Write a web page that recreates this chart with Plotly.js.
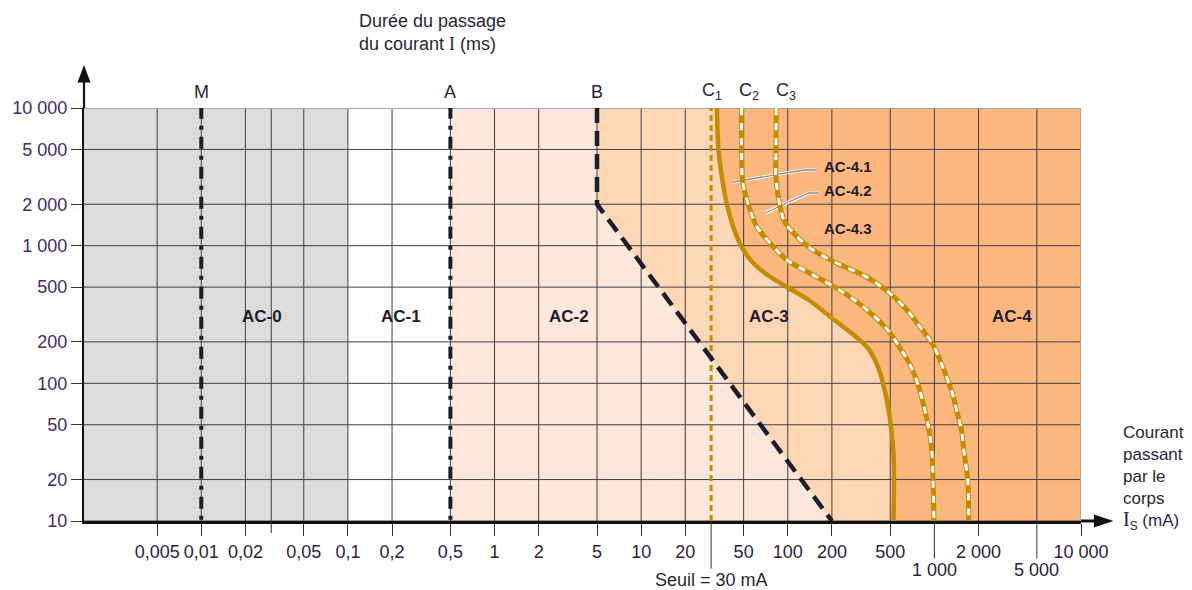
<!DOCTYPE html>
<html><head><meta charset="utf-8">
<script src="https://cdn.plot.ly/plotly-3.0.1.min.js"></script>
<style>html,body{margin:0;padding:0;background:#fff;}#chart{width:1192px;height:590px;}</style>
</head><body><div id="chart"></div>
<script>
// ---- ticks and grid ----
const xGridVals = [0.005,0.01,0.02,0.03,0.05,0.1,0.2,0.5,1,2,5,10,20,50,100,200,500,1000,2000,5000,10000];
const xTickVals = [0.005,0.01,0.02,0.05,0.1,0.2,0.5,1,2,5,10,20,50,100,200,500,2000,10000];
const xTickText = ['0,005','0,01','0,02','0,05','0,1','0,2','0,5','1','2','5','10','20','50','100','200','500','2 000','10 000'];
const xTickLowVals = [1000, 5000];
const xTickLowText = ['1 000', '5 000'];
const xTickBlank = [0.03];
const yTickVals = [10,20,50,100,200,500,1000,2000,5000,10000];
const yTickText = ['10','20','50','100','200','500','1 000','2 000','5 000','10 000'];

// ---- limits (mA) ----
const limitM = 0.01;
const limitAC0 = 0.1;
const limitA = 0.5;
const seuil = 30;
const gridMax = 10000;   // border of the chart (mA and ms)

// ---- curve B (mA, ms) ----
const curveB_I = [5, 5, 200];
const curveB_t = [10000, 2000, 10];

// ---- curve C1 ----
const curveC1_I = [32.9, 33.7, 35.8, 38.7, 43.2, 48.9, 59.0, 74.5, 98.6, 139, 208, 293, 359, 420, 469, 506, 526, 530, 526];
const curveC1_t = [10000, 4955, 3000, 1941, 1300, 962, 736, 602, 501, 403, 288, 217, 175, 125, 79.6, 48.2, 30.2, 19.9, 10];
// ---- curve C2 ----
const curveC2_I = [48.4, 48.4, 49.4, 54.3, 61.8, 80.2, 98.6, 141, 243, 354, 481, 576, 673, 767, 851, 919, 959, 979, 994];
const curveC2_t = [10000, 4955, 2851, 1941, 1366, 978, 787, 633, 453, 335, 244, 184, 140, 100.6, 67.3, 45.8, 32.8, 19.9, 10];
// ---- curve C3 ----
const curveC3_I = [83.5, 83.1, 83.1, 88.4, 95.5, 109.4, 142, 215, 326, 468, 649, 829, 981, 1161, 1324, 1432, 1531, 1586, 1688, 1715];
const curveC3_t = [10000, 4955, 3152, 1941, 1485, 1236, 962, 748, 612, 476, 341, 244, 190, 125, 85.1, 60.9, 45.8, 32.8, 19.9, 10];

// ---- zone labels ----
const zoneNames = ['AC-0', 'AC-1', 'AC-2', 'AC-3', 'AC-4'];
const zoneLabelI = [0.026, 0.23, 3.2, 75, 3380];
const zoneLabelT = [308, 308, 308, 308, 308];
const subZoneNames = ['AC-4.1', 'AC-4.2', 'AC-4.3'];
const subZoneLabelI = [172, 172, 172];
const subZoneLabelT = [3785, 2535, 1343];
const leader41_I = [42.5, 128.5, 157];
const leader41_t = [2900, 3545, 3545];
const leader42_I = [70, 139, 162];
const leader42_t = [1727, 2413, 2413];

const curveNames = ['M', 'A', 'B', 'C<sub>1</sub>', 'C<sub>2</sub>', 'C<sub>3</sub>'];
const curveNameI = [0.01, 0.5, 5, 30.4, 54.3, 97];

// ---- styling ----
const FONT = 'Liberation Sans, Arial, sans-serif';
const TXT = '#2b1f38';
const GOLD = '#c48c02';
const DARK = '#1d1d29';
const col = {ac0: '#dcdcdc', ac2: '#fde6da', ac3: '#fdd6b6', ac4: '#fcb77e', grid: '#3f3f44', border: '#a8a8a8'};
const XLO = 1e-4, XHI = 1e6, YLO = 1, YHI = 1e5;
const SM = 1;

const traces = [];
const base = {mode: 'lines', hoverinfo: 'skip', showlegend: false};

// zone fills
traces.push(Object.assign({}, base, {x: [XLO, limitAC0, limitAC0, XLO], y: [10, 10, 10000, 10000],
  fill: 'toself', fillcolor: col.ac0, line: {width: 0}}));
traces.push(Object.assign({}, base, {x: [limitA, limitA].concat(curveB_I), y: [10, YHI].concat([YHI, curveB_t[1], curveB_t[2]]),
  fill: 'toself', fillcolor: col.ac2, line: {width: 0}}));
traces.push(Object.assign({}, base, {x: [curveB_I[0]].concat(curveB_I.slice(1), [XHI, XHI]),
  y: [YHI].concat(curveB_t.slice(1), [curveB_t[2], YHI]),
  fill: 'toself', fillcolor: col.ac3, line: {width: 0}}));
traces.push(Object.assign({}, base, {
  x: [curveC1_I[0]].concat(curveC1_I, [curveC1_I[curveC1_I.length - 1], XHI, XHI]),
  y: [YHI].concat(curveC1_t, [YLO, YLO, YHI]),
  fill: 'toself', fillcolor: col.ac4, line: {width: 0, shape: 'spline', smoothing: SM}}));

// grid
const gx = [], gy = [], bx = [], by = [];
xGridVals.forEach(v => {
  const tx = v === gridMax ? bx : gx, ty = v === gridMax ? by : gy;
  tx.push(v, v, null); ty.push(YLO, YHI, null);
});
yTickVals.forEach(v => {
  const tx = v === gridMax ? bx : gx, ty = v === gridMax ? by : gy;
  tx.push(XLO, XHI, null); ty.push(v, v, null);
});
traces.push(Object.assign({}, base, {x: gx, y: gy, line: {color: col.grid, width: 1}}));
traces.push(Object.assign({}, base, {x: bx, y: by, line: {color: col.border, width: 2}}));

// limit lines
traces.push(Object.assign({}, base, {x: [seuil, seuil], y: [10, YHI], line: {color: GOLD, width: 3, dash: '6px,4px'}}));
traces.push(Object.assign({}, base, {x: [limitM, limitM], y: [YLO, YHI], line: {color: DARK, width: 4, dash: '12px,7px,4px,7px'}}));
traces.push(Object.assign({}, base, {x: [limitA, limitA], y: [YLO, YHI], line: {color: DARK, width: 4, dash: '12px,7px,4px,7px'}}));
traces.push(Object.assign({}, base, {x: curveB_I, y: curveB_t, line: {color: DARK, width: 4.5, dash: '15px,8px'}}));

// leader lines
[[leader41_I, leader41_t], [leader42_I, leader42_t]].forEach(([lx, ly]) => {
  traces.push(Object.assign({}, base, {x: lx, y: ly, line: {color: '#ffffff', width: 3.2}}));
  traces.push(Object.assign({}, base, {x: lx, y: ly, line: {color: '#8a8a8f', width: 1.3}}));
});

// C curves
traces.push(Object.assign({}, base, {x: curveC1_I, y: curveC1_t, line: {color: GOLD, width: 4.5, shape: 'spline', smoothing: SM}}));
[[curveC2_I, curveC2_t], [curveC3_I, curveC3_t]].forEach(([cx, cy]) => {
  traces.push(Object.assign({}, base, {x: cx, y: cy, line: {color: GOLD, width: 5, shape: 'spline', smoothing: SM}}));
  traces.push(Object.assign({}, base, {x: cx, y: cy, line: {color: '#ffffff', width: 3, shape: 'spline', smoothing: SM, dash: '7px,8px'}}));
});

const ann = [];
// title
ann.push({xref: 'paper', yref: 'paper', x: 0.2738, y: 1.1816, xanchor: 'left', yanchor: 'middle', align: 'left', showarrow: false,
  text: 'Durée du passage<br>du courant <span style="font-family:Liberation Serif">I</span> (ms)',
  font: {family: FONT, size: 18, color: TXT}});
// right label
ann.push({xref: 'paper', yref: 'paper', x: 1.040, y: 0.104, xanchor: 'left', yanchor: 'middle', align: 'left', showarrow: false,
  text: 'Courant<br>passant<br>par le<br>corps<br><span style="font-family:Liberation Serif;font-size:20px">I</span><sub>S</sub> (mA)',
  font: {family: FONT, size: 17, color: TXT}});
// lowered tick labels with their long ticks
xTickLowVals.forEach((v, i) => ann.push({xref: 'x', yref: 'paper', x: Math.log10(v), y: 0, ax: 0, ay: 49,
  showarrow: true, arrowhead: 0, arrowwidth: 1, arrowcolor: '#333',
  text: xTickLowText[i], font: {family: FONT, size: 18, color: TXT}}));
// seuil
ann.push({xref: 'x', yref: 'paper', x: Math.log10(seuil), y: 0, ax: 0, ay: 59, showarrow: true, arrowhead: 0,
  arrowwidth: 1, arrowcolor: '#333', text: 'Seuil = ' + seuil + ' mA', font: {family: FONT, size: 18, color: TXT}});
// curve names
curveNames.forEach((n, i) => ann.push({xref: 'x', yref: 'paper', x: Math.log10(curveNameI[i]), y: 1.039, yanchor: 'middle',
  showarrow: false, text: n, font: {family: FONT, size: 18, color: TXT}}));
// zone labels
zoneNames.forEach((n, i) => ann.push({xref: 'x', yref: 'y', x: Math.log10(zoneLabelI[i]), y: Math.log10(zoneLabelT[i]),
  showarrow: false, text: '<b>' + n + '</b>', font: {family: FONT, size: 17, color: '#231a2e'}}));
subZoneNames.forEach((n, i) => ann.push({xref: 'x', yref: 'y', x: Math.log10(subZoneLabelI[i]), y: Math.log10(subZoneLabelT[i]),
  xanchor: 'left', showarrow: false, text: '<b>' + n + '</b>', font: {family: FONT, size: 15, color: '#231a2e'}}));

// axis arrows (paper coordinates) and blank tick
const shapes = [
  {type: 'line', xref: 'paper', yref: 'paper', x0: 0, x1: 0, y0: 1, y1: 1.07, line: {color: '#111', width: 2.2}},
  {type: 'path', xref: 'paper', yref: 'paper', path: 'M -0.0065 1.062 L 0 1.104 L 0.0065 1.062 Z', fillcolor: '#111', line: {width: 0}},
  {type: 'line', xref: 'paper', yref: 'paper', x0: 1, x1: 1.018, y0: 0, y1: 0, line: {color: '#111', width: 3}},
  {type: 'path', xref: 'paper', yref: 'paper', path: 'M 1.013 0.0155 L 1.0325 0 L 1.013 -0.0155 Z', fillcolor: '#111', line: {width: 0}}
];
xTickBlank.forEach(v => shapes.push({type: 'line', xref: 'x', yref: 'paper', x0: v, x1: v, y0: 0, y1: -0.029,
  line: {color: '#333', width: 1}}));

const layout = {
  width: 1192, height: 590,
  margin: {l: 84, r: 111, t: 108, b: 69},
  paper_bgcolor: '#ffffff', plot_bgcolor: '#ffffff',
  font: {family: FONT, size: 18, color: TXT},
  showlegend: false,
  xaxis: {type: 'log', range: [-2.8, 4], showgrid: false, zeroline: false,
    tickmode: 'array', tickvals: xTickVals, ticktext: xTickText, ticks: 'outside', ticklen: 12, tickwidth: 1, tickcolor: '#333',
    tickfont: {family: FONT, size: 18, color: TXT}, showline: true, linecolor: '#111', linewidth: 3, fixedrange: true},
  yaxis: {type: 'log', range: [1, 4], showgrid: false, zeroline: false,
    tickmode: 'array', tickvals: yTickVals, ticktext: yTickText, ticks: 'outside', ticklen: 11, tickwidth: 1, tickcolor: '#333',
    tickfont: {family: FONT, size: 18, color: '#4a2a66'}, showline: true, linecolor: '#111', linewidth: 2.2, fixedrange: true},
  annotations: ann,
  shapes: shapes
};
Plotly.newPlot('chart', traces, layout, {displayModeBar: false, staticPlot: true});
</script>
</body></html>
